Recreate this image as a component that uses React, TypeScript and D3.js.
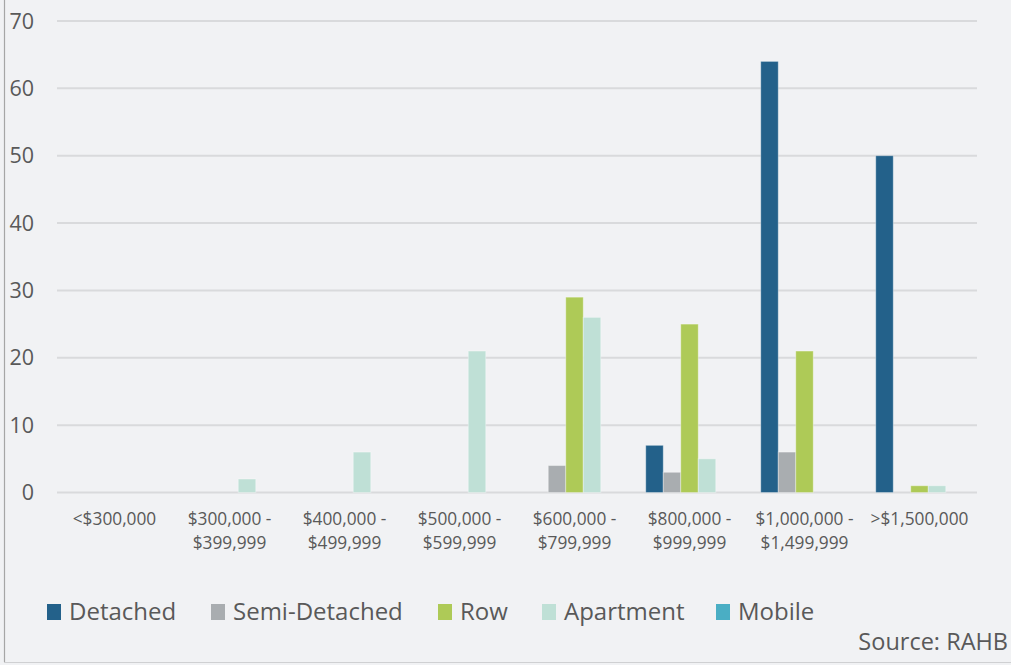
import React from "react";
import * as d3 from "d3";

const categories = [
  ["<$300,000"],
  ["$300,000 -", "$399,999"],
  ["$400,000 -", "$499,999"],
  ["$500,000 -", "$599,999"],
  ["$600,000 -", "$799,999"],
  ["$800,000 -", "$999,999"],
  ["$1,000,000 -", "$1,499,999"],
  [">$1,500,000"],
];
const seriesNames = ["Detached", "Semi-Detached", "Row", "Apartment", "Mobile"];
const seriesColors = ["#23618a", "#a9adb0", "#aeca57", "#bfe0d6", "#4aaec4"];
const detached = [0, 0, 0, 0, 0, 7, 64, 50];
const semiDetached = [0, 0, 0, 0, 4, 3, 6, 0];
const row = [0, 0, 0, 0, 29, 25, 21, 1];
const apartment = [0, 2, 6, 21, 26, 5, 0, 1];
const mobile = [0, 0, 0, 0, 0, 0, 0, 0];
const yTicks = [0, 10, 20, 30, 40, 50, 60, 70];

const W = 1011;
const H = 665;
const FONT = "'Open Sans', sans-serif";
const TEXT = "#595959";

export default function App() {
  const values = [detached, semiDetached, row, apartment, mobile];
  const x0 = d3
    .scaleBand<number>()
    .domain(d3.range(categories.length))
    .range([57, 977])
    .paddingInner(0)
    .paddingOuter(0);
  const y = d3.scaleLinear().domain([0, 70]).range([492.5, 21]);
  const groupW = 87.5;
  const x1 = d3
    .scaleBand<number>()
    .domain(d3.range(seriesNames.length))
    .range([(x0.bandwidth() - groupW) / 2, (x0.bandwidth() + groupW) / 2]);

  const legendX = [47, 211, 438, 542, 716];

  return (
    <svg
      width={W}
      height={H}
      style={{ position: "absolute", left: 0, top: 0, display: "block" }}
      fontFamily={FONT}
    >
      <rect x={0} y={0} width={W} height={H} fill="#f1f2f4" />
      <line x1={4.5} x2={4.5} y1={0} y2={662} stroke="#a6a6a6" strokeWidth={1.2} />
      <line x1={4} x2={W} y1={662.5} y2={662.5} stroke="#cfd0d2" strokeWidth={1.2} />

      {yTicks.map((t) => (
        <g key={t}>
          <line
            x1={57}
            x2={977}
            y1={y(t)}
            y2={y(t)}
            stroke="#d9dadc"
            strokeWidth={2}
          />
          <text
            x={34}
            y={y(t)}
            dy="0.35em"
            textAnchor="end"
            fontSize={21.5}
            fill={TEXT}
          >
            {t}
          </text>
        </g>
      ))}

      {categories.map((c, i) => (
        <g key={i} transform={`translate(${x0(i)},0)`}>
          {values.map((vals, s) =>
            vals[i] > 0 ? (
              <rect
                key={s}
                x={x1(s)}
                y={y(vals[i])}
                width={x1.bandwidth()}
                height={y(0) - y(vals[i])}
                fill={seriesColors[s]}
                stroke="#ffffff"
                strokeOpacity={0.35}
                strokeWidth={1}
              />
            ) : null
          )}
          {c.map((line, k) => (
            <text
              key={k}
              x={x0.bandwidth() / 2}
              y={525 + k * 24}
              textAnchor="middle"
              fontSize={17.3}
              fill={TEXT}
            >
              {line}
            </text>
          ))}
        </g>
      ))}

      {seriesNames.map((n, s) => (
        <g key={n}>
          <rect x={legendX[s]} y={604} width={14} height={16} fill={seriesColors[s]} />
          <text x={legendX[s] + 22} y={620} fontSize={24} fill={TEXT}>
            {n}
          </text>
        </g>
      ))}

      <text x={1008} y={650} textAnchor="end" fontSize={23.5} fill={TEXT}>
        Source: RAHB
      </text>
    </svg>
  );
}
